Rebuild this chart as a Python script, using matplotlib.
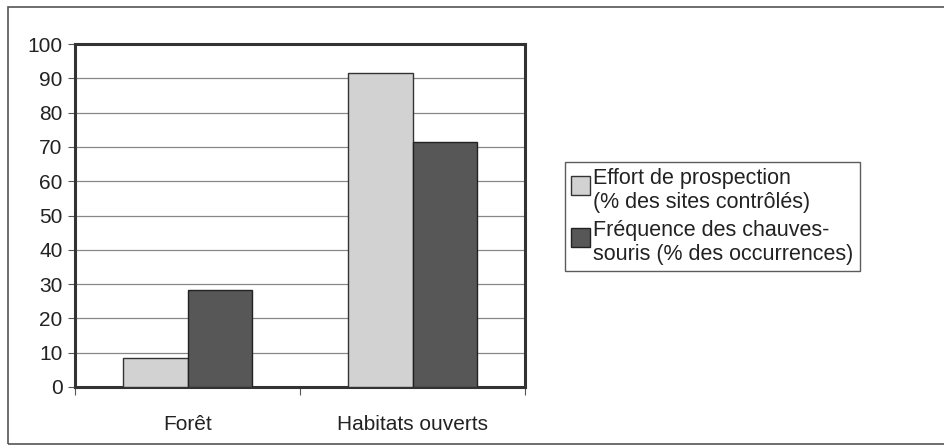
import matplotlib
matplotlib.use("Agg")
import matplotlib.pyplot as plt
from matplotlib.patches import Rectangle
from matplotlib.legend_handler import HandlerPatch
import numpy as np

plt.rcParams['font.family'] = ['Liberation Sans', 'DejaVu Sans']

categories = ["Forêt", "Habitats ouverts"]
series_names = ["Effort de prospection\n(% des sites contrôlés)",
                "Fréquence des chauves-\nsouris (% des occurrences)"]
effort = [8.5, 91.5]
frequence = [28.3, 71.5]
yticks = [0, 10, 20, 30, 40, 50, 60, 70, 80, 90, 100]

W, H = 945, 446
fig = plt.figure(figsize=(W / 100, H / 100), dpi=100)

# outer frame
fig.patches.append(Rectangle((8 / W, 1 - 444 / H), 1.2, (444 - 7) / H,
                             transform=fig.transFigure, fill=False,
                             edgecolor='#555555', linewidth=1.2, zorder=0))

ax = fig.add_axes([75 / W, 1 - 387 / H, 450 / W, (387 - 44) / H])
x = np.arange(len(categories))
bw = 0.287
b1 = ax.bar(x - bw / 2, effort, bw, color='#d2d2d2', edgecolor='#333333',
            linewidth=1.0, label=series_names[0], zorder=3)
b2 = ax.bar(x + bw / 2, frequence, bw, color='#575757', edgecolor='#222222',
            linewidth=1.0, label=series_names[1], zorder=3)

ax.set_xlim(-0.5, 1.5)
ax.set_ylim(0, 100)
ax.set_yticks(yticks)
ax.set_yticklabels([str(v) for v in yticks], fontsize=15, color='#222222')
ax.yaxis.grid(True, color='#888888', linewidth=0.9, zorder=0)
ax.set_axisbelow(True)
ax.tick_params(axis='y', length=5, width=0.8, color='#555555', pad=4)

ax.set_xticks([-0.5, 0.5, 1.5], minor=False)
ax.set_xticklabels(['', '', ''])
ax.tick_params(axis='x', which='major', length=6, width=0.8, direction='out', color='#555555')
ax.set_xticks(x, minor=True)
ax.set_xticklabels(categories, minor=True, fontsize=15, color='#222222')
ax.tick_params(axis='x', which='minor', length=0, pad=20)

for s in ax.spines.values():
    s.set_linewidth(2.2)
    s.set_color('#333333')


def top_square(legend, orig_handle, xdescent, ydescent, width, height, fontsize):
    side = 0.85 * fontsize
    return Rectangle((-xdescent, -ydescent + height - side - 0.12 * fontsize),
                     side, side)


handler = HandlerPatch(patch_func=top_square)
handles = [b1.patches[0], b2.patches[0]]
leg = fig.legend(handles, series_names, loc='upper left',
                 bbox_to_anchor=(565 / W, 1 - 162 / H),
                 handler_map={h: handler for h in handles},
                 fontsize=15.5, frameon=True, fancybox=False, edgecolor='#333333',
                 handlelength=0.85, handleheight=2.2, handletextpad=0.15,
                 labelspacing=0.35, borderpad=0.3, borderaxespad=0)
leg.get_frame().set_linewidth(1.0)
for t in leg.get_texts():
    t.set_color('#222222')
    t.set_linespacing(1.15)

fig.savefig("out.png", dpi=100, facecolor='white')
